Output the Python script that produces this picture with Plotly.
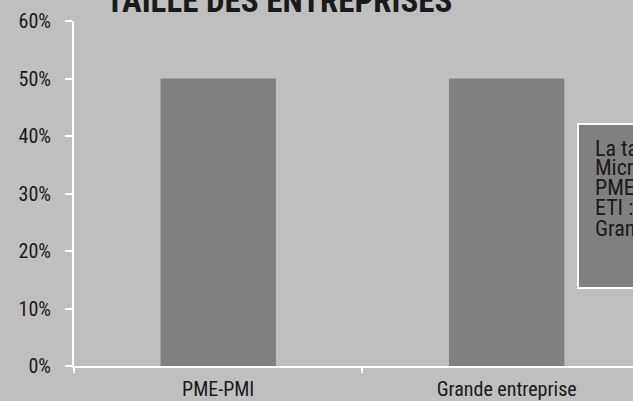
import plotly.graph_objects as go

categories = ["PME-PMI", "Grande entreprise"]
values = [0.5, 0.5]
y_ticks = [0, 0.1, 0.2, 0.3, 0.4, 0.5, 0.6]
y_tick_labels = ["0%", "10%", "20%", "30%", "40%", "50%", "60%"]
title_text = "TAILLE DES ENTREPRISES"
note_lines = [
    "La taille des entreprises :",
    "Micro-entreprise : moins de 10 salariés",
    "PME : de 10 à 249 salariés",
    "ETI : de 250 à 4 999 salariés",
    "Grande entreprise : 5 000 salariés et plus",
]

FONT = "Liberation Sans Narrow, Roboto Condensed, DejaVu Sans Condensed, Arial Narrow, Liberation Sans, sans-serif"
TXT = "#1a1a1a"

W, H = 633, 401
L, R, T, B = 74, 0, 21, 35
PW, PH = W - L - R, H - T - B


def px(x):
    return (x - L) / PW


def py(y):
    return (H - B - y) / PH


fig = go.Figure(go.Bar(
    x=categories, y=values,
    marker=dict(color="#808080", line=dict(width=0)),
    width=0.4,
))

TS = 33
NS = 22
annotations = [
    dict(text="<b>" + title_text + "</b>", xref="paper", yref="paper",
         x=px(104), y=py(11.7 - 0.35 * TS), xanchor="left", yanchor="middle",
         showarrow=False, font=dict(family=FONT, size=TS, color=TXT)),
]
baselines = [156, 175.5, 195.5, 215.5, 236]
for line, bl in zip(note_lines, baselines):
    annotations.append(dict(
        text=line, xref="paper", yref="paper",
        x=px(593), y=py(bl - 0.35 * NS), xanchor="left", yanchor="middle",
        showarrow=False, font=dict(family=FONT, size=NS, color=TXT)))

fig.update_layout(
    width=W, height=H,
    margin=dict(l=L, r=R, t=T, b=B),
    paper_bgcolor="#bfbfbf", plot_bgcolor="#bfbfbf",
    showlegend=False,
    font=dict(family=FONT, size=20, color=TXT),
    xaxis=dict(
        range=[-0.5, 1.438], showgrid=False, zeroline=False,
        showline=True, linecolor="white", linewidth=2,
        ticks="outside", tickson="boundaries", tickcolor="white", ticklen=5, tickwidth=2,
        ticklabelstandoff=4,
        tickfont=dict(family=FONT, size=20, color=TXT),
    ),
    yaxis=dict(
        range=[0, 0.6], tickvals=y_ticks, ticktext=y_tick_labels,
        showgrid=False, zeroline=False,
        showline=True, linecolor="white", linewidth=2,
        ticks="outside", tickcolor="white", ticklen=7, tickwidth=2,
        ticklabelstandoff=10,
        tickfont=dict(family=FONT, size=20, color=TXT),
    ),
    shapes=[dict(type="rect", xref="paper", yref="paper",
                 x0=px(578), x1=px(700), y0=py(288), y1=py(124),
                 fillcolor="#808080", line=dict(color="white", width=2), layer="above")],
    annotations=annotations,
)

fig.write_html("out.html", config={"displayModeBar": False},
               post_script="document.body.style.margin='0';document.body.style.overflow='hidden';")
